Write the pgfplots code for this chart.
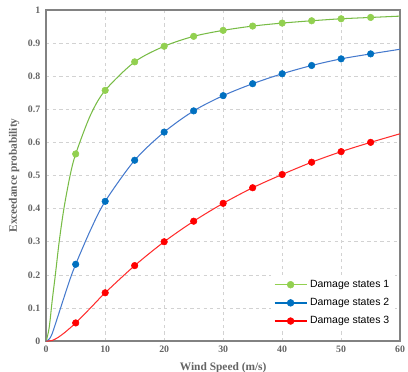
\documentclass[border=0pt]{standalone}
\usepackage{fontspec}
\setmainfont{Liberation Serif}
\newfontfamily\legendfont{Liberation Sans}
\usepackage{pgfplots}
\pgfplotsset{compat=1.18}
\definecolor{gline}{RGB}{120,188,70}
\definecolor{gmark}{RGB}{146,208,80}
\definecolor{bline}{RGB}{70,122,205}
\definecolor{bmark}{RGB}{0,112,192}
\definecolor{rline}{RGB}{255,45,45}
\definecolor{rmark}{RGB}{255,0,0}
\definecolor{labgray}{RGB}{100,100,100}
\definecolor{axgray}{RGB}{130,130,130}
\begin{document}
\begin{tikzpicture}
\begin{axis}[
  scale only axis,
  width=270pt, height=252.75pt,
  xmin=0, xmax=60, ymin=0, ymax=1,
  xtick={0,10,...,60},
  ytick={0,0.1,...,1.0},
  yticklabel style={/pgf/number format/fixed, /pgf/number format/precision=1, xshift=-1pt},
  /pgf/number format/assume math mode=true,
  tick label style={font=\bfseries\fontsize{7.5}{9}\selectfont, text=labgray},
  label style={font=\bfseries\fontsize{8.7}{10}\selectfont, text=labgray},
  xlabel={Wind Speed (m/s)},
  ylabel={Exceedance probability},
  xlabel style={at={(axis description cs:0.5,0)}, anchor=north, yshift=-13pt},
  ylabel style={at={(axis description cs:0,0.5)}, anchor=south, yshift=17pt},
  major tick length=0pt,
  grid=major,
  major grid style={draw=gray!35, dash pattern=on 2.5pt off 2.5pt, line width=0.5pt},
  axis line style={draw=axgray, line width=1.2pt},
  legend style={draw=none, fill=white, at={(0.985,0.03)}, anchor=south east,
    font=\legendfont\fontsize{8}{9.6}\selectfont, row sep=2.8pt, inner sep=2pt},
  legend cell align=left,
  clip=false,
]
\coordinate (SW) at (rel axis cs:0,0);
\coordinate (NE) at (rel axis cs:1,1);
% curves (lines)
\addplot[gline, line width=0.8pt, smooth, forget plot] coordinates {
 (0,0) (0.5,0.04) (1,0.12) (1.55,0.2) (2.2,0.3) (3,0.4) (4.05,0.5) (5,0.565)
 (7.5,0.682) (10,0.757) (15,0.843) (20,0.89) (25,0.92) (30,0.938) (35,0.951)
 (40,0.96) (45,0.967) (50,0.973) (55,0.977) (60,0.981)};
\addplot[bline, line width=0.8pt, smooth, forget plot] coordinates {
 (0,0) (0.5,0.006) (1,0.022) (2,0.076) (3,0.131) (4,0.185) (5,0.232)
 (7.5,0.335) (10,0.422) (15,0.546) (20,0.631) (25,0.695) (30,0.741) (35,0.777)
 (40,0.807) (45,0.832) (50,0.852) (55,0.867) (60,0.881)};
\addplot[rline, line width=0.8pt, smooth, forget plot] coordinates {
 (0,0) (1,0.002) (2,0.011) (3,0.024) (4,0.039) (5,0.055) (7.5,0.1) (10,0.146)
 (15,0.228) (20,0.3) (25,0.362) (30,0.416) (35,0.463) (40,0.503) (45,0.54)
 (50,0.572) (55,0.6) (60,0.626)};
% markers
\addplot[only marks, mark=*, mark size=2.5pt, gmark, forget plot] coordinates {
 (5,0.565) (10,0.757) (15,0.843) (20,0.89) (25,0.92) (30,0.938) (35,0.951)
 (40,0.96) (45,0.967) (50,0.973) (55,0.977)};
\addplot[only marks, mark=*, mark size=2.5pt, bmark, forget plot] coordinates {
 (5,0.232) (10,0.422) (15,0.546) (20,0.631) (25,0.695) (30,0.741) (35,0.777)
 (40,0.807) (45,0.832) (50,0.852) (55,0.867)};
\addplot[only marks, mark=*, mark size=2.5pt, rmark, forget plot] coordinates {
 (5,0.055) (10,0.146) (15,0.228) (20,0.3) (25,0.362) (30,0.416) (35,0.463)
 (40,0.503) (45,0.54) (50,0.572) (55,0.6)};
\addlegendimage{legend image code/.code={\draw[gmark, line width=1.2pt] (0cm,0cm) -- (0.86cm,0cm); \fill[gmark] (0.43cm,0cm) circle (2.6pt);}}
\addlegendentry{Damage states 1}
\addlegendimage{legend image code/.code={\draw[bmark, line width=1.2pt] (0cm,0cm) -- (0.86cm,0cm); \fill[bmark] (0.43cm,0cm) circle (2.6pt);}}
\addlegendentry{Damage states 2}
\addlegendimage{legend image code/.code={\draw[rmark, line width=1.2pt] (0cm,0cm) -- (0.86cm,0cm); \fill[rmark] (0.43cm,0cm) circle (2.6pt);}}
\addlegendentry{Damage states 3}
\end{axis}
\pgfresetboundingbox
\path ([shift={(-35.25pt,-23.25pt)}]SW) rectangle ([shift={(6pt,7.5pt)}]NE);
\end{tikzpicture}
\end{document}
